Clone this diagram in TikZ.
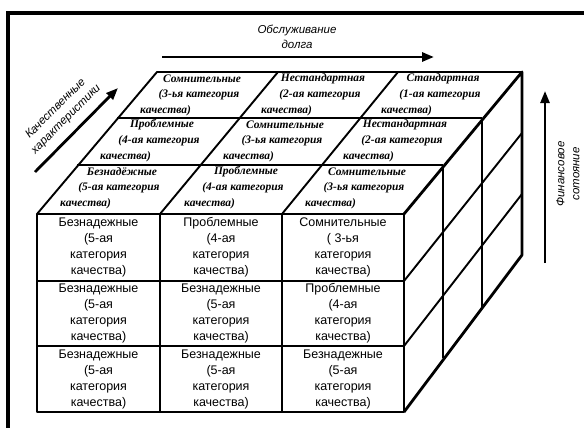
\documentclass[tikz,border=0pt]{standalone}
\usepackage{fontspec}
\newfontfamily\timesf{Liberation Serif}
\newfontfamily\arialf{Liberation Sans}
\usetikzlibrary{arrows.meta}
\tikzset{
  frontcell/.style={align=center,inner sep=0pt,font=\arialf\fontsize{12.5}{16}\selectfont},
  topline/.style={inner sep=0pt,font=\timesf\bfseries\itshape\fontsize{11.5}{13}\selectfont},
  axislabel/.style={align=center,inner sep=0pt,font=\arialf\itshape\fontsize{11.5}{15}\selectfont},
  thickedge/.style={line width=2.8pt,line join=round},
  thinedge/.style={line width=1.9pt,line join=round},
  axisarrow/.style={line width=2.8pt,-{Triangle[length=12pt,width=9pt]}},
}
\newcommand\topcell[5]{%
  \node[topline] (#1a) at (#2+45,#3+7) {#4};
  \node[topline] (#1b) at (#2+42,#3+23) {#5};
  \node[topline,anchor=west] (#1c) at (#2-17,#3+39) {качества)};
}
\begin{document}
\begin{tikzpicture}[x=1pt,y=-1pt]
\useasboundingbox (0,0) rectangle (584,428);
\fill[white] (0,0) rectangle (584,428);
% frame
\draw[line width=3.8pt] (8,428) -- (8,13) -- (584,13);

% top face
\draw[thinedge] (77,165) -- (443,165);
\draw[thinedge] (117,118) -- (482,118);
\draw[thinedge] (160,214) -- (278,72);
\draw[thinedge] (282,214) -- (398,72);
\draw[thinedge] (37,214) -- (157,72) -- (522,72);

% right face
\draw[thinedge] (443,165) -- (443,358);
\draw[thinedge] (482,118) -- (482,308);
\draw[thinedge] (404,281) -- (522,133);
\draw[thinedge] (404,346) -- (522,194);
\draw[thickedge] (404,214) -- (522,72) -- (522,255) -- (404,412);

% front face
\draw[thinedge] (160,214) -- (160,412);
\draw[thinedge] (282,214) -- (282,412);
\draw[thinedge] (37,281) -- (404,281);
\draw[thinedge] (37,346) -- (404,346);
\draw[thickedge] (37,214) rectangle (404,412);

% front cells
\node[frontcell] (f11) at (98.5,247) {Безнадежные\\(5-ая\\категория\\качества)};
\node[frontcell] (f12) at (221,247) {Проблемные\\(4-ая\\категория\\качества)};
\node[frontcell] (f13) at (343,247) {Сомнительные\\( 3-ья\\категория\\качества)};
\node[frontcell] (f21) at (98.5,313) {Безнадежные\\(5-ая\\категория\\качества)};
\node[frontcell] (f22) at (221,313) {Безнадежные\\(5-ая\\категория\\качества)};
\node[frontcell] (f23) at (343,313) {Проблемные\\(4-ая\\категория\\качества)};
\node[frontcell] (f31) at (98.5,379) {Безнадежные\\(5-ая\\категория\\качества)};
\node[frontcell] (f32) at (221,379) {Безнадежные\\(5-ая\\категория\\качества)};
\node[frontcell] (f33) at (343,379) {Безнадежные\\(5-ая\\категория\\качества)};

% top cells (back-left corner coordinates)
\topcell{t11}{157}{72}{Сомнительные}{(3-ья категория}
\topcell{t12}{278}{72}{Нестандартная}{(2-ая категория}
\topcell{t13}{398}{72}{Стандартная}{(1-ая категория}
\topcell{t21}{117}{118}{Проблемные}{(4-ая категория}
\topcell{t22}{240}{118}{Сомнительные}{(3-ья категория}
\topcell{t23}{360}{118}{Нестандартная}{(2-ая категория}
\topcell{t31}{77}{165}{Безнадёжные}{(5-ая категория}
\topcell{t32}{201}{165}{Проблемные}{(4-ая категория}
\topcell{t33}{322}{165}{Сомнительные}{(3-ья категория}

% axes
\coordinate (da1) at (162,57);
\coordinate (da2) at (434,57);
\draw[axisarrow] (da1) -- (da2);
\node[axislabel] (dl) at (297,37) {Обслуживание\\долга};

\coordinate (qa1) at (35,172);
\coordinate (qa2) at (118,88);
\draw[axisarrow] (qa1) -- (qa2);
\node[axislabel,rotate=45] (ql) at (61,114) {Качественные\\характеристики};

\coordinate (fa1) at (545,263);
\coordinate (fa2) at (545,91);
\draw[axisarrow,line width=2.4pt] (fa1) -- (fa2);
\node[axislabel,rotate=90] (fl) at (568,174) {Финансовое\\сотояние};
\end{tikzpicture}
\end{document}
